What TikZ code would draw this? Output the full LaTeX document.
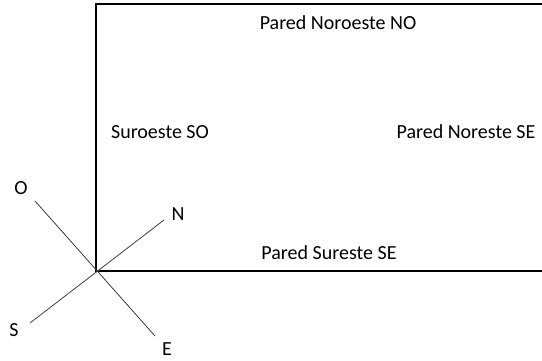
\documentclass[tikz,border=0pt]{standalone}
\usepackage{fontspec}
\setmainfont{Carlito}
\begin{document}
\begin{tikzpicture}[x=1pt,y=-1pt,
  wall/.style={line width=1.8pt,black},
  axis/.style={line width=0.8pt,black!75},
  lbl/.style={inner sep=0pt,font=\fontsize{20pt}{24pt}\selectfont,anchor=center}]
\useasboundingbox (0,0) rectangle (542,360);
\coordinate (o) at (96,271);
\coordinate (tl) at (96,4);
\coordinate (tr) at (542,4);
\coordinate (br) at (542,271);
\draw[wall] (tr) -- (tl) -- (o) -- (br);
\coordinate (n) at (164,220);
\coordinate (w) at (35,201);
\coordinate (s) at (30,323);
\coordinate (e) at (155,336);
\draw[axis] (w) -- (e);
\draw[axis] (s) -- (n);
\node[lbl] (lo) at (21,188) {O};
\node[lbl] (ln) at (178,214) {N};
\node[lbl] (ls) at (14,330) {S};
\node[lbl] (le) at (167,349) {E};
\node[lbl] (nw) at (338,23) {Pared Noroeste NO};
\node[lbl] (sw) at (160,132) {Suroeste SO};
\node[lbl] (ne) at (466,132) {Pared Noreste SE};
\node[lbl] (se) at (329,253) {Pared Sureste SE};
\end{tikzpicture}
\end{document}
